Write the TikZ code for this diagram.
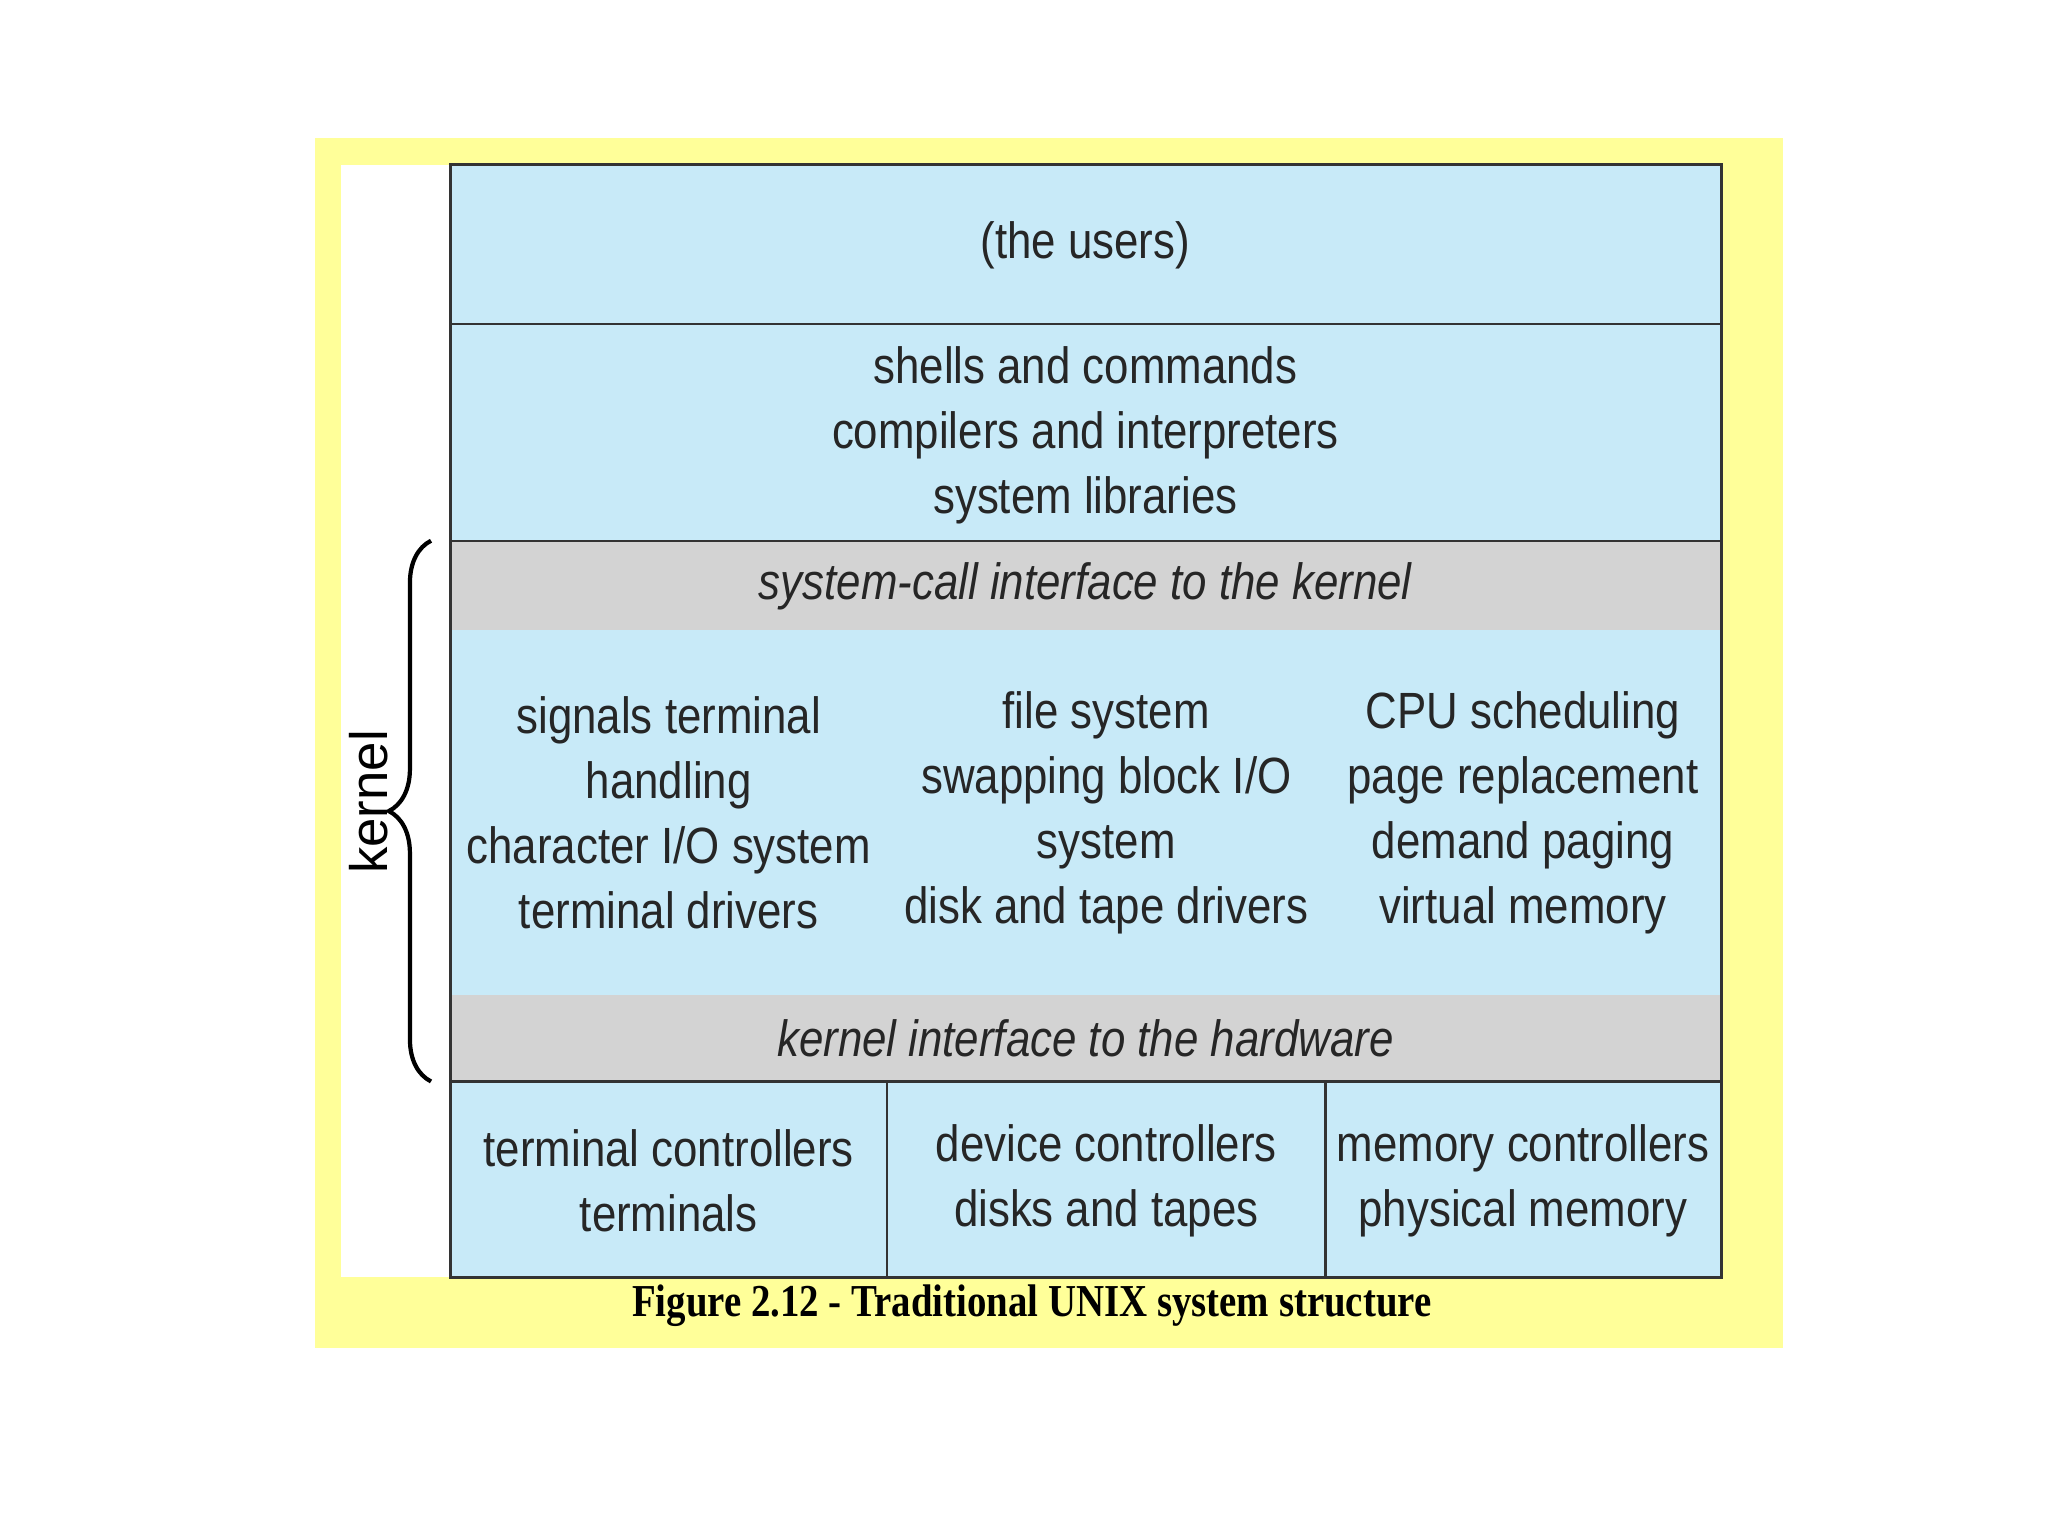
\documentclass[tikz,border=0pt]{standalone}
\usepackage{fontspec}
\setmainfont{Liberation Sans}
\newfontfamily\nar[FakeStretch=0.86]{Liberation Sans}
\newfontfamily\capfont[FakeStretch=0.85]{Liberation Serif}
\usetikzlibrary{decorations.pathreplacing}
\definecolor{lb}{HTML}{C8EAF8}
\definecolor{gr}{HTML}{D3D3D3}
\definecolor{ye}{HTML}{FFFF99}
\tikzset{txt/.style={font=\nar\fontsize{14.5}{18.5}\selectfont,align=center,text=black!85},
 band/.style={draw=black!80,line width=0.7pt}}
\begin{document}
\begin{tikzpicture}[x=0.01306cm,y=-0.01306cm]
\useasboundingbox (0,0) rectangle (1568,1176);
\fill[white] (0,0) rectangle (1568,1176);
\fill[ye] (241,106) rectangle (1365,1032);
\fill[white] (261,126) rectangle (345,978);
\fill[lb] (345,126) rectangle (1318,978);
\fill[gr] (345,414) rectangle (1318,482);
\fill[gr] (345,762) rectangle (1318,828);
\draw[band] (345,126) rectangle (1318,978);
\draw[band] (345,248) -- (1318,248);
\draw[band] (345,414) -- (1318,414);
\draw[band] (345,828) -- (1318,828);
\draw[band] (679,828) -- (679,978);
\draw[band] (1015,828) -- (1015,978);
\node[txt] (u) at (831,188) {(the users)};
\node[txt] (s) at (831,333) {shells and commands\\compilers and interpreters\\system libraries};
\node[txt,font=\nar\itshape\fontsize{14.5}{18.5}\selectfont] (sc) at (831,449) {system-call interface to the kernel};
\node[txt] (m1) at (512,622) {signals terminal\\handling\\character I/O system\\terminal drivers};
\node[txt] (m2) at (847,622) {file system\\swapping block I/O\\system\\disk and tape drivers};
\node[txt] (m3) at (1166,622) {CPU scheduling\\page replacement\\demand paging\\virtual memory};
\node[txt,font=\nar\itshape\fontsize{14.5}{18.5}\selectfont] (kh) at (831,795) {kernel interface to the hardware};
\node[txt] (b1) at (512,904) {terminal controllers\\terminals};
\node[txt] (b2) at (847,904) {device controllers\\disks and tapes};
\node[txt] (b3) at (1166,904) {memory controllers\\physical memory};
\coordinate (bt) at (330,414);
\coordinate (bb) at (330,828);
\draw[line width=1.2pt,decorate,decoration={brace,amplitude=12pt}] (bb) -- (bt);
\node[rotate=90,font=\fontsize{15}{18}\selectfont] (k) at (282,614) {kernel};
\node[font=\capfont\bfseries\fontsize{13}{16}\selectfont] (c) at (790,1000) {Figure 2.12 - Traditional UNIX system structure};
\end{tikzpicture}
\end{document}
